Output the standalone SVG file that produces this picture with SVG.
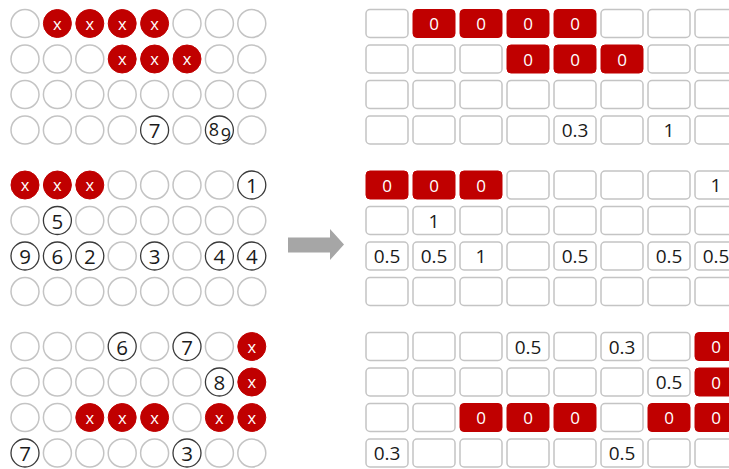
<svg xmlns="http://www.w3.org/2000/svg" width="729" height="469" viewBox="0 0 729 469">
<style>
.e{fill:#fff;stroke:#c4c4c4;stroke-width:1.5}
.n{fill:#fff;stroke:#3a3a3a;stroke-width:1.3}
.r{fill:#c00000;stroke:#c00000;stroke-width:1}
.b{fill:#fff;stroke:#c4c4c4;stroke-width:1.5}
.rb{fill:#c00000;stroke:#c00000;stroke-width:1}
text{font-family:"Open Sans","DejaVu Sans",sans-serif;text-anchor:middle;dominant-baseline:central}
.x{fill:#fff;font-size:16.5px}
.t{fill:#1a1a1a;font-size:20.5px}
.z{fill:#fff;font-size:17px}
.v{fill:#1a1a1a;font-size:19px}
</style>
<g id="left">
<!-- block 0 -->
<g id="c0-0-0"><circle class="e" cx="25" cy="23.5" r="14"/></g>
<g id="c0-0-1"><circle class="r" cx="57.4" cy="23.5" r="14"/><text class="x" x="57.4" y="23">x</text></g>
<g id="c0-0-2"><circle class="r" cx="89.8" cy="23.5" r="14"/><text class="x" x="89.8" y="23">x</text></g>
<g id="c0-0-3"><circle class="r" cx="122.2" cy="23.5" r="14"/><text class="x" x="122.2" y="23">x</text></g>
<g id="c0-0-4"><circle class="r" cx="154.6" cy="23.5" r="14"/><text class="x" x="154.6" y="23">x</text></g>
<g id="c0-0-5"><circle class="e" cx="187" cy="23.5" r="14"/></g>
<g id="c0-0-6"><circle class="e" cx="219.4" cy="23.5" r="14"/></g>
<g id="c0-0-7"><circle class="e" cx="251.8" cy="23.5" r="14"/></g>
<g id="c0-1-0"><circle class="e" cx="25" cy="59" r="14"/></g>
<g id="c0-1-1"><circle class="e" cx="57.4" cy="59" r="14"/></g>
<g id="c0-1-2"><circle class="e" cx="89.8" cy="59" r="14"/></g>
<g id="c0-1-3"><circle class="r" cx="122.2" cy="59" r="14"/><text class="x" x="122.2" y="58.5">x</text></g>
<g id="c0-1-4"><circle class="r" cx="154.6" cy="59" r="14"/><text class="x" x="154.6" y="58.5">x</text></g>
<g id="c0-1-5"><circle class="r" cx="187" cy="59" r="14"/><text class="x" x="187" y="58.5">x</text></g>
<g id="c0-1-6"><circle class="e" cx="219.4" cy="59" r="14"/></g>
<g id="c0-1-7"><circle class="e" cx="251.8" cy="59" r="14"/></g>
<g id="c0-2-0"><circle class="e" cx="25" cy="94.5" r="14"/></g>
<g id="c0-2-1"><circle class="e" cx="57.4" cy="94.5" r="14"/></g>
<g id="c0-2-2"><circle class="e" cx="89.8" cy="94.5" r="14"/></g>
<g id="c0-2-3"><circle class="e" cx="122.2" cy="94.5" r="14"/></g>
<g id="c0-2-4"><circle class="e" cx="154.6" cy="94.5" r="14"/></g>
<g id="c0-2-5"><circle class="e" cx="187" cy="94.5" r="14"/></g>
<g id="c0-2-6"><circle class="e" cx="219.4" cy="94.5" r="14"/></g>
<g id="c0-2-7"><circle class="e" cx="251.8" cy="94.5" r="14"/></g>
<g id="c0-3-0"><circle class="e" cx="25" cy="130" r="14"/></g>
<g id="c0-3-1"><circle class="e" cx="57.4" cy="130" r="14"/></g>
<g id="c0-3-2"><circle class="e" cx="89.8" cy="130" r="14"/></g>
<g id="c0-3-3"><circle class="e" cx="122.2" cy="130" r="14"/></g>
<g id="c0-3-4"><circle class="n" cx="154.6" cy="130" r="14"/><text class="t" x="154.6" y="130">7</text></g>
<g id="c0-3-5"><circle class="e" cx="187" cy="130" r="14"/></g>
<g id="c0-3-6"><circle class="n" cx="219.4" cy="130" r="14"/><text class="t" x="219.4" y="130" style="font-size:18px"><tspan x="214" dy="-1.5">8</tspan><tspan x="226" dy="5">9</tspan></text></g>
<g id="c0-3-7"><circle class="e" cx="251.8" cy="130" r="14"/></g>
<!-- block 1 -->
<g id="c1-0-0"><circle class="r" cx="25" cy="185" r="14"/><text class="x" x="25" y="184.5">x</text></g>
<g id="c1-0-1"><circle class="r" cx="57.4" cy="185" r="14"/><text class="x" x="57.4" y="184.5">x</text></g>
<g id="c1-0-2"><circle class="r" cx="89.8" cy="185" r="14"/><text class="x" x="89.8" y="184.5">x</text></g>
<g id="c1-0-3"><circle class="e" cx="122.2" cy="185" r="14"/></g>
<g id="c1-0-4"><circle class="e" cx="154.6" cy="185" r="14"/></g>
<g id="c1-0-5"><circle class="e" cx="187" cy="185" r="14"/></g>
<g id="c1-0-6"><circle class="e" cx="219.4" cy="185" r="14"/></g>
<g id="c1-0-7"><circle class="n" cx="251.8" cy="185" r="14"/><text class="t" x="251.8" y="185">1</text></g>
<g id="c1-1-0"><circle class="e" cx="25" cy="220.5" r="14"/></g>
<g id="c1-1-1"><circle class="n" cx="57.4" cy="220.5" r="14"/><text class="t" x="57.4" y="220.5">5</text></g>
<g id="c1-1-2"><circle class="e" cx="89.8" cy="220.5" r="14"/></g>
<g id="c1-1-3"><circle class="e" cx="122.2" cy="220.5" r="14"/></g>
<g id="c1-1-4"><circle class="e" cx="154.6" cy="220.5" r="14"/></g>
<g id="c1-1-5"><circle class="e" cx="187" cy="220.5" r="14"/></g>
<g id="c1-1-6"><circle class="e" cx="219.4" cy="220.5" r="14"/></g>
<g id="c1-1-7"><circle class="e" cx="251.8" cy="220.5" r="14"/></g>
<g id="c1-2-0"><circle class="n" cx="25" cy="256" r="14"/><text class="t" x="25" y="256">9</text></g>
<g id="c1-2-1"><circle class="n" cx="57.4" cy="256" r="14"/><text class="t" x="57.4" y="256">6</text></g>
<g id="c1-2-2"><circle class="n" cx="89.8" cy="256" r="14"/><text class="t" x="89.8" y="256">2</text></g>
<g id="c1-2-3"><circle class="e" cx="122.2" cy="256" r="14"/></g>
<g id="c1-2-4"><circle class="n" cx="154.6" cy="256" r="14"/><text class="t" x="154.6" y="256">3</text></g>
<g id="c1-2-5"><circle class="e" cx="187" cy="256" r="14"/></g>
<g id="c1-2-6"><circle class="n" cx="219.4" cy="256" r="14"/><text class="t" x="219.4" y="256">4</text></g>
<g id="c1-2-7"><circle class="n" cx="251.8" cy="256" r="14"/><text class="t" x="251.8" y="256">4</text></g>
<g id="c1-3-0"><circle class="e" cx="25" cy="291.5" r="14"/></g>
<g id="c1-3-1"><circle class="e" cx="57.4" cy="291.5" r="14"/></g>
<g id="c1-3-2"><circle class="e" cx="89.8" cy="291.5" r="14"/></g>
<g id="c1-3-3"><circle class="e" cx="122.2" cy="291.5" r="14"/></g>
<g id="c1-3-4"><circle class="e" cx="154.6" cy="291.5" r="14"/></g>
<g id="c1-3-5"><circle class="e" cx="187" cy="291.5" r="14"/></g>
<g id="c1-3-6"><circle class="e" cx="219.4" cy="291.5" r="14"/></g>
<g id="c1-3-7"><circle class="e" cx="251.8" cy="291.5" r="14"/></g>
<!-- block 2 -->
<g id="c2-0-0"><circle class="e" cx="25" cy="346.5" r="14"/></g>
<g id="c2-0-1"><circle class="e" cx="57.4" cy="346.5" r="14"/></g>
<g id="c2-0-2"><circle class="e" cx="89.8" cy="346.5" r="14"/></g>
<g id="c2-0-3"><circle class="n" cx="122.2" cy="346.5" r="14"/><text class="t" x="122.2" y="346.5">6</text></g>
<g id="c2-0-4"><circle class="e" cx="154.6" cy="346.5" r="14"/></g>
<g id="c2-0-5"><circle class="n" cx="187" cy="346.5" r="14"/><text class="t" x="187" y="346.5">7</text></g>
<g id="c2-0-6"><circle class="e" cx="219.4" cy="346.5" r="14"/></g>
<g id="c2-0-7"><circle class="r" cx="251.8" cy="346.5" r="14"/><text class="x" x="251.8" y="346">x</text></g>
<g id="c2-1-0"><circle class="e" cx="25" cy="382" r="14"/></g>
<g id="c2-1-1"><circle class="e" cx="57.4" cy="382" r="14"/></g>
<g id="c2-1-2"><circle class="e" cx="89.8" cy="382" r="14"/></g>
<g id="c2-1-3"><circle class="e" cx="122.2" cy="382" r="14"/></g>
<g id="c2-1-4"><circle class="e" cx="154.6" cy="382" r="14"/></g>
<g id="c2-1-5"><circle class="e" cx="187" cy="382" r="14"/></g>
<g id="c2-1-6"><circle class="n" cx="219.4" cy="382" r="14"/><text class="t" x="219.4" y="382">8</text></g>
<g id="c2-1-7"><circle class="r" cx="251.8" cy="382" r="14"/><text class="x" x="251.8" y="381.5">x</text></g>
<g id="c2-2-0"><circle class="e" cx="25" cy="417.5" r="14"/></g>
<g id="c2-2-1"><circle class="e" cx="57.4" cy="417.5" r="14"/></g>
<g id="c2-2-2"><circle class="r" cx="89.8" cy="417.5" r="14"/><text class="x" x="89.8" y="417">x</text></g>
<g id="c2-2-3"><circle class="r" cx="122.2" cy="417.5" r="14"/><text class="x" x="122.2" y="417">x</text></g>
<g id="c2-2-4"><circle class="r" cx="154.6" cy="417.5" r="14"/><text class="x" x="154.6" y="417">x</text></g>
<g id="c2-2-5"><circle class="e" cx="187" cy="417.5" r="14"/></g>
<g id="c2-2-6"><circle class="r" cx="219.4" cy="417.5" r="14"/><text class="x" x="219.4" y="417">x</text></g>
<g id="c2-2-7"><circle class="r" cx="251.8" cy="417.5" r="14"/><text class="x" x="251.8" y="417">x</text></g>
<g id="c2-3-0"><circle class="n" cx="25" cy="453" r="14"/><text class="t" x="25" y="453">7</text></g>
<g id="c2-3-1"><circle class="e" cx="57.4" cy="453" r="14"/></g>
<g id="c2-3-2"><circle class="e" cx="89.8" cy="453" r="14"/></g>
<g id="c2-3-3"><circle class="e" cx="122.2" cy="453" r="14"/></g>
<g id="c2-3-4"><circle class="e" cx="154.6" cy="453" r="14"/></g>
<g id="c2-3-5"><circle class="n" cx="187" cy="453" r="14"/><text class="t" x="187" y="453">3</text></g>
<g id="c2-3-6"><circle class="e" cx="219.4" cy="453" r="14"/></g>
<g id="c2-3-7"><circle class="e" cx="251.8" cy="453" r="14"/></g>
</g>
<g id="connectors">
<polygon points="288,237.5 330,237.5 330,229 344,244.5 330,260 330,252.5 288,252.5" fill="#a6a6a6"/>
</g>
<g id="right">
<!-- block 0 -->
<g id="b0-0-0"><rect class="b" x="366" y="9.5" width="42" height="28" rx="4"/></g>
<g id="b0-0-1"><rect class="rb" x="413" y="9.5" width="42" height="28" rx="4"/><text class="z" x="434" y="23.5">0</text></g>
<g id="b0-0-2"><rect class="rb" x="460" y="9.5" width="42" height="28" rx="4"/><text class="z" x="481" y="23.5">0</text></g>
<g id="b0-0-3"><rect class="rb" x="507" y="9.5" width="42" height="28" rx="4"/><text class="z" x="528" y="23.5">0</text></g>
<g id="b0-0-4"><rect class="rb" x="554" y="9.5" width="42" height="28" rx="4"/><text class="z" x="575" y="23.5">0</text></g>
<g id="b0-0-5"><rect class="b" x="601" y="9.5" width="42" height="28" rx="4"/></g>
<g id="b0-0-6"><rect class="b" x="648" y="9.5" width="42" height="28" rx="4"/></g>
<g id="b0-0-7"><rect class="b" x="695" y="9.5" width="42" height="28" rx="4"/></g>
<g id="b0-1-0"><rect class="b" x="366" y="45" width="42" height="28" rx="4"/></g>
<g id="b0-1-1"><rect class="b" x="413" y="45" width="42" height="28" rx="4"/></g>
<g id="b0-1-2"><rect class="b" x="460" y="45" width="42" height="28" rx="4"/></g>
<g id="b0-1-3"><rect class="rb" x="507" y="45" width="42" height="28" rx="4"/><text class="z" x="528" y="59">0</text></g>
<g id="b0-1-4"><rect class="rb" x="554" y="45" width="42" height="28" rx="4"/><text class="z" x="575" y="59">0</text></g>
<g id="b0-1-5"><rect class="rb" x="601" y="45" width="42" height="28" rx="4"/><text class="z" x="622" y="59">0</text></g>
<g id="b0-1-6"><rect class="b" x="648" y="45" width="42" height="28" rx="4"/></g>
<g id="b0-1-7"><rect class="b" x="695" y="45" width="42" height="28" rx="4"/></g>
<g id="b0-2-0"><rect class="b" x="366" y="80.5" width="42" height="28" rx="4"/></g>
<g id="b0-2-1"><rect class="b" x="413" y="80.5" width="42" height="28" rx="4"/></g>
<g id="b0-2-2"><rect class="b" x="460" y="80.5" width="42" height="28" rx="4"/></g>
<g id="b0-2-3"><rect class="b" x="507" y="80.5" width="42" height="28" rx="4"/></g>
<g id="b0-2-4"><rect class="b" x="554" y="80.5" width="42" height="28" rx="4"/></g>
<g id="b0-2-5"><rect class="b" x="601" y="80.5" width="42" height="28" rx="4"/></g>
<g id="b0-2-6"><rect class="b" x="648" y="80.5" width="42" height="28" rx="4"/></g>
<g id="b0-2-7"><rect class="b" x="695" y="80.5" width="42" height="28" rx="4"/></g>
<g id="b0-3-0"><rect class="b" x="366" y="116" width="42" height="28" rx="4"/></g>
<g id="b0-3-1"><rect class="b" x="413" y="116" width="42" height="28" rx="4"/></g>
<g id="b0-3-2"><rect class="b" x="460" y="116" width="42" height="28" rx="4"/></g>
<g id="b0-3-3"><rect class="b" x="507" y="116" width="42" height="28" rx="4"/></g>
<g id="b0-3-4"><rect class="b" x="554" y="116" width="42" height="28" rx="4"/><text class="v" x="575" y="130">0.3</text></g>
<g id="b0-3-5"><rect class="b" x="601" y="116" width="42" height="28" rx="4"/></g>
<g id="b0-3-6"><rect class="b" x="648" y="116" width="42" height="28" rx="4"/><text class="v" x="669" y="130">1</text></g>
<g id="b0-3-7"><rect class="b" x="695" y="116" width="42" height="28" rx="4"/></g>
<!-- block 1 -->
<g id="b1-0-0"><rect class="rb" x="366" y="171" width="42" height="28" rx="4"/><text class="z" x="387" y="185">0</text></g>
<g id="b1-0-1"><rect class="rb" x="413" y="171" width="42" height="28" rx="4"/><text class="z" x="434" y="185">0</text></g>
<g id="b1-0-2"><rect class="rb" x="460" y="171" width="42" height="28" rx="4"/><text class="z" x="481" y="185">0</text></g>
<g id="b1-0-3"><rect class="b" x="507" y="171" width="42" height="28" rx="4"/></g>
<g id="b1-0-4"><rect class="b" x="554" y="171" width="42" height="28" rx="4"/></g>
<g id="b1-0-5"><rect class="b" x="601" y="171" width="42" height="28" rx="4"/></g>
<g id="b1-0-6"><rect class="b" x="648" y="171" width="42" height="28" rx="4"/></g>
<g id="b1-0-7"><rect class="b" x="695" y="171" width="42" height="28" rx="4"/><text class="v" x="716" y="185">1</text></g>
<g id="b1-1-0"><rect class="b" x="366" y="206.5" width="42" height="28" rx="4"/></g>
<g id="b1-1-1"><rect class="b" x="413" y="206.5" width="42" height="28" rx="4"/><text class="v" x="434" y="220.5">1</text></g>
<g id="b1-1-2"><rect class="b" x="460" y="206.5" width="42" height="28" rx="4"/></g>
<g id="b1-1-3"><rect class="b" x="507" y="206.5" width="42" height="28" rx="4"/></g>
<g id="b1-1-4"><rect class="b" x="554" y="206.5" width="42" height="28" rx="4"/></g>
<g id="b1-1-5"><rect class="b" x="601" y="206.5" width="42" height="28" rx="4"/></g>
<g id="b1-1-6"><rect class="b" x="648" y="206.5" width="42" height="28" rx="4"/></g>
<g id="b1-1-7"><rect class="b" x="695" y="206.5" width="42" height="28" rx="4"/></g>
<g id="b1-2-0"><rect class="b" x="366" y="242" width="42" height="28" rx="4"/><text class="v" x="387" y="256">0.5</text></g>
<g id="b1-2-1"><rect class="b" x="413" y="242" width="42" height="28" rx="4"/><text class="v" x="434" y="256">0.5</text></g>
<g id="b1-2-2"><rect class="b" x="460" y="242" width="42" height="28" rx="4"/><text class="v" x="481" y="256">1</text></g>
<g id="b1-2-3"><rect class="b" x="507" y="242" width="42" height="28" rx="4"/></g>
<g id="b1-2-4"><rect class="b" x="554" y="242" width="42" height="28" rx="4"/><text class="v" x="575" y="256">0.5</text></g>
<g id="b1-2-5"><rect class="b" x="601" y="242" width="42" height="28" rx="4"/></g>
<g id="b1-2-6"><rect class="b" x="648" y="242" width="42" height="28" rx="4"/><text class="v" x="669" y="256">0.5</text></g>
<g id="b1-2-7"><rect class="b" x="695" y="242" width="42" height="28" rx="4"/><text class="v" x="716" y="256">0.5</text></g>
<g id="b1-3-0"><rect class="b" x="366" y="277.5" width="42" height="28" rx="4"/></g>
<g id="b1-3-1"><rect class="b" x="413" y="277.5" width="42" height="28" rx="4"/></g>
<g id="b1-3-2"><rect class="b" x="460" y="277.5" width="42" height="28" rx="4"/></g>
<g id="b1-3-3"><rect class="b" x="507" y="277.5" width="42" height="28" rx="4"/></g>
<g id="b1-3-4"><rect class="b" x="554" y="277.5" width="42" height="28" rx="4"/></g>
<g id="b1-3-5"><rect class="b" x="601" y="277.5" width="42" height="28" rx="4"/></g>
<g id="b1-3-6"><rect class="b" x="648" y="277.5" width="42" height="28" rx="4"/></g>
<g id="b1-3-7"><rect class="b" x="695" y="277.5" width="42" height="28" rx="4"/></g>
<!-- block 2 -->
<g id="b2-0-0"><rect class="b" x="366" y="332.5" width="42" height="28" rx="4"/></g>
<g id="b2-0-1"><rect class="b" x="413" y="332.5" width="42" height="28" rx="4"/></g>
<g id="b2-0-2"><rect class="b" x="460" y="332.5" width="42" height="28" rx="4"/></g>
<g id="b2-0-3"><rect class="b" x="507" y="332.5" width="42" height="28" rx="4"/><text class="v" x="528" y="346.5">0.5</text></g>
<g id="b2-0-4"><rect class="b" x="554" y="332.5" width="42" height="28" rx="4"/></g>
<g id="b2-0-5"><rect class="b" x="601" y="332.5" width="42" height="28" rx="4"/><text class="v" x="622" y="346.5">0.3</text></g>
<g id="b2-0-6"><rect class="b" x="648" y="332.5" width="42" height="28" rx="4"/></g>
<g id="b2-0-7"><rect class="rb" x="695" y="332.5" width="42" height="28" rx="4"/><text class="z" x="716" y="346.5">0</text></g>
<g id="b2-1-0"><rect class="b" x="366" y="368" width="42" height="28" rx="4"/></g>
<g id="b2-1-1"><rect class="b" x="413" y="368" width="42" height="28" rx="4"/></g>
<g id="b2-1-2"><rect class="b" x="460" y="368" width="42" height="28" rx="4"/></g>
<g id="b2-1-3"><rect class="b" x="507" y="368" width="42" height="28" rx="4"/></g>
<g id="b2-1-4"><rect class="b" x="554" y="368" width="42" height="28" rx="4"/></g>
<g id="b2-1-5"><rect class="b" x="601" y="368" width="42" height="28" rx="4"/></g>
<g id="b2-1-6"><rect class="b" x="648" y="368" width="42" height="28" rx="4"/><text class="v" x="669" y="382">0.5</text></g>
<g id="b2-1-7"><rect class="rb" x="695" y="368" width="42" height="28" rx="4"/><text class="z" x="716" y="382">0</text></g>
<g id="b2-2-0"><rect class="b" x="366" y="403.5" width="42" height="28" rx="4"/></g>
<g id="b2-2-1"><rect class="b" x="413" y="403.5" width="42" height="28" rx="4"/></g>
<g id="b2-2-2"><rect class="rb" x="460" y="403.5" width="42" height="28" rx="4"/><text class="z" x="481" y="417.5">0</text></g>
<g id="b2-2-3"><rect class="rb" x="507" y="403.5" width="42" height="28" rx="4"/><text class="z" x="528" y="417.5">0</text></g>
<g id="b2-2-4"><rect class="rb" x="554" y="403.5" width="42" height="28" rx="4"/><text class="z" x="575" y="417.5">0</text></g>
<g id="b2-2-5"><rect class="b" x="601" y="403.5" width="42" height="28" rx="4"/></g>
<g id="b2-2-6"><rect class="rb" x="648" y="403.5" width="42" height="28" rx="4"/><text class="z" x="669" y="417.5">0</text></g>
<g id="b2-2-7"><rect class="rb" x="695" y="403.5" width="42" height="28" rx="4"/><text class="z" x="716" y="417.5">0</text></g>
<g id="b2-3-0"><rect class="b" x="366" y="439" width="42" height="28" rx="4"/><text class="v" x="387" y="453">0.3</text></g>
<g id="b2-3-1"><rect class="b" x="413" y="439" width="42" height="28" rx="4"/></g>
<g id="b2-3-2"><rect class="b" x="460" y="439" width="42" height="28" rx="4"/></g>
<g id="b2-3-3"><rect class="b" x="507" y="439" width="42" height="28" rx="4"/></g>
<g id="b2-3-4"><rect class="b" x="554" y="439" width="42" height="28" rx="4"/></g>
<g id="b2-3-5"><rect class="b" x="601" y="439" width="42" height="28" rx="4"/><text class="v" x="622" y="453">0.5</text></g>
<g id="b2-3-6"><rect class="b" x="648" y="439" width="42" height="28" rx="4"/></g>
<g id="b2-3-7"><rect class="b" x="695" y="439" width="42" height="28" rx="4"/></g>
</g>
</svg>
